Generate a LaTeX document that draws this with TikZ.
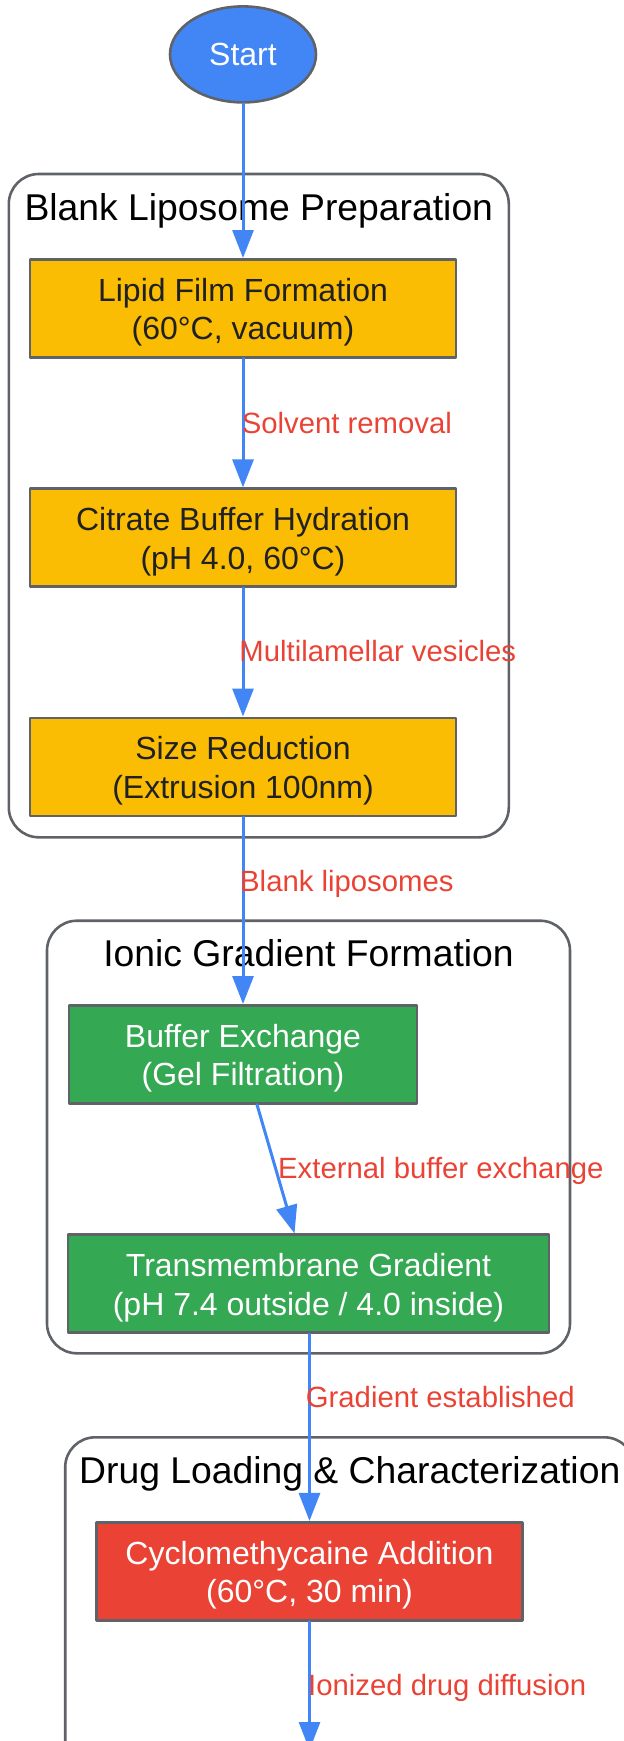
\documentclass[tikz,border=0pt]{standalone}
\usepackage{fontspec}
\setmainfont{Liberation Sans}
\usetikzlibrary{arrows.meta,shapes.geometric}
\definecolor{gblue}{HTML}{4285F4}
\definecolor{gyellow}{HTML}{FBBC04}
\definecolor{ggreen}{HTML}{34A853}
\definecolor{gred}{HTML}{EA4335}
\definecolor{ggray}{HTML}{5F6368}
\definecolor{gdark}{HTML}{202124}

\begin{document}
\begin{tikzpicture}[x=1pt,y=-1pt,line cap=round,line join=round,
	>={Triangle[length=28pt,width=21pt]},
	stepbox/.style={draw=ggray,line width=2.6pt,rectangle,minimum height=98pt,
		align=center,inner sep=0pt,font=\fontsize{32}{38.4}\selectfont,
		execute at begin node={\rule{0pt}{69.6pt}}},
	yellowbox/.style={stepbox,fill=gyellow,text=gdark},
	greenbox/.style={stepbox,fill=ggreen,text=white},
	redbox/.style={stepbox,fill=gred,text=white},
	cluster/.style={draw=ggray,line width=2.6pt,rounded corners=30pt},
	clustertitle/.style={anchor=base,inner sep=0pt,font=\fontsize{37.3}{44}\selectfont},
	flow/.style={->,draw=gblue,line width=3pt},
	elabel/.style={anchor=base west,inner sep=0pt,text=gred,font=\fontsize{29.3}{35}\selectfont}]
		\useasboundingbox (0,0) rectangle (624,1741);
		\clip (0,0) rectangle (624,1741);
		% clusters
		\draw [cluster] (8.8,174) rectangle (508.8,837.3);
		\node [clustertitle] (prep) at (258.8,220) {Blank Liposome Preparation};
		\draw [cluster] (47,920.7) rectangle (570,1353.3);
		\node [clustertitle] (ionic) at (308.5,966.7) {Ionic Gradient Formation};
		\draw [cluster] (65.2,1437.3) rectangle (634.4,1800);
		\node [clustertitle] (drug) at (349.8,1483.3) {Drug Loading \& Characterization};
		% steps
		\node [ellipse,draw=ggray,line width=2.6pt,fill=gblue,text=white,minimum width=146pt,minimum height=96pt,
			font=\fontsize{32}{38.4}\selectfont] (start) at (243,54.4) {Start};
		\node [yellowbox,minimum width=426pt] (film) at (243,308.3) {Lipid Film Formation\\(60°C, vacuum)};
		\node [yellowbox,minimum width=426pt] (hydration) at (243,537.7) {Citrate Buffer Hydration\\(pH 4.0, 60°C)};
		\node [yellowbox,minimum width=426pt] (size) at (243,766.8) {Size Reduction\\(Extrusion 100nm)};
		\node [greenbox,minimum width=348pt] (exchange) at (243,1054.3) {Buffer Exchange\\(Gel Filtration)};
		\node [greenbox,minimum width=481pt] (gradient) at (308.5,1283.7) {Transmembrane Gradient\\(pH 7.4 outside / 4.0 inside)};
		\node [redbox,minimum width=426pt] (addition) at (309.5,1571.2) {Cyclomethycaine Addition\\(60°C, 30 min)};
		\coordinate (next) at (309.5,1750);
		% connectors
		\draw [flow] (start) -- (film);
		\draw [flow] (film) -- (hydration);
		\draw [flow] (hydration) -- (size);
		\draw [flow] (size) -- (exchange);
		\draw [flow] ([xshift=14pt]exchange.south) -- ([xshift=-14pt]gradient.north);
		\draw [flow] (gradient.south -| addition.north) -- (addition.north);
		\draw [flow] (addition.south) -- (next);
		% edge labels
		\node [elabel] (solvent) at (241.6,433.3) {Solvent removal};
		\node [elabel] (vesicles) at (239.2,661.7) {Multilamellar vesicles};
		\node [elabel] (blank) at (240,891.7) {Blank liposomes};
		\node [elabel] (external) at (278,1178) {External buffer exchange};
		\node [elabel] (established) at (305.7,1407.3) {Gradient established};
		\node [elabel] (ionized) at (308,1695) {Ionized drug diffusion};
	\end{tikzpicture}
\end{document}
